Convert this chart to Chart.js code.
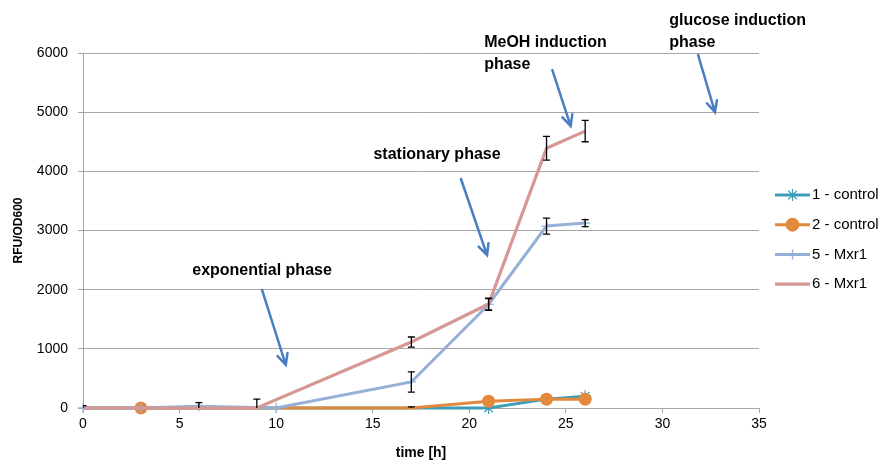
<!DOCTYPE html>
<html>
<head>
<meta charset="utf-8">
<script src="https://cdn.jsdelivr.net/npm/chart.js@4.4.1/dist/chart.umd.min.js"></script>
<style>
    html, body { margin: 0; padding: 0; background: #fff; }
    #wrap { width: 884px; height: 464px; }
</style>
</head>
<body>
<div id="wrap"><canvas id="fluoChart" width="884" height="464"></canvas></div>
<script>
// Sampling times [h]
const timeH = [0, 3, 6, 9, 17, 21, 24, 26];
const timeMxr5 = [0, 3, 6, 10, 17, 21, 24, 26];

// RFU/OD600 per series
const control1 = [0, 0, 0, 0, 0, 0, 150, 200];
const control2 = [0, 0, 0, 0, 0, 115, 150, 150];
const mxr5 = [0, 0, 30, 0, 440, 1750, 3075, 3125];
const mxr6 = [0, 0, 0, 0, 1115, 1757, 4390, 4680];

// error bars (+/-)
const errControl1 = [0, 0, 0, 0, 20, 0, 0, 0];
const errControl2 = [0, 0, 0, 0, 0, 0, 0, 0];
const errMxr5 = [40, 0, 60, 0, 170, 100, 135, 60];
const errMxr6 = [0, 0, 0, 150, 85, 100, 200, 180];

// which points show a marker on the control series
const controlMarkers = [0, 1, 0, 0, 0, 1, 1, 1];

const seriesLabels = ['1 - control', '2 - control', '5 - Mxr1', '6 - Mxr1'];

const xTicks = [0, 5, 10, 15, 20, 25, 30, 35];
const yTicks = [0, 1000, 2000, 3000, 4000, 5000, 6000];

// phase annotations, anchored in data units (time, RFU/OD600)
const phaseNotes = [
    { lines: ['exponential phase'], x: 9.27, y: 2315, align: 'center', from: [9.27, 1995], to: [10.5, 730] },
    { lines: ['stationary phase'], x: 18.33, y: 4275, align: 'center', from: [19.57, 3870], to: [20.92, 2585] },
    { lines: ['MeOH induction', 'phase'], x: 20.77, y: 6180, align: 'left', from: [24.3, 5710], to: [25.25, 4765] },
    { lines: ['glucose induction', 'phase'], x: 30.35, y: 6555, align: 'left', from: [31.85, 5965], to: [32.72, 5000] }
];

const COLORS = {
    control1: '#3E9DB5',
    control2: '#E3893D',
    mxr5: '#95AFD6',
    mxr6: '#D69795',
    grid: '#A6A6A6',
    arrow: '#4A7EC0',
    text: '#000000'
};

const FONT = '"Liberation Sans", Arial, sans-serif';

function points(xs, ys) {
    return xs.map((x, i) => ({ x: x, y: ys[i] }));
}

const datasets = [
    {
        label: seriesLabels[0],
        data: points(timeH, control1),
        errors: errControl1,
        borderColor: COLORS.control1,
        backgroundColor: COLORS.control1,
        borderWidth: 3,
        pointStyle: 'star',
        pointRadius: controlMarkers.map(m => m ? 6 : 0),
        pointBorderWidth: 1.2,
        order: 4
    },
    {
        label: seriesLabels[1],
        data: points(timeH, control2),
        errors: errControl2,
        borderColor: COLORS.control2,
        backgroundColor: COLORS.control2,
        borderWidth: 3,
        pointStyle: 'circle',
        pointRadius: controlMarkers.map(m => m ? 6.5 : 0),
        pointBorderWidth: 0,
        order: 3
    },
    {
        label: seriesLabels[2],
        data: points(timeMxr5, mxr5),
        errors: errMxr5,
        borderColor: COLORS.mxr5,
        backgroundColor: COLORS.mxr5,
        borderWidth: 3,
        pointStyle: 'cross',
        pointRadius: 5,
        pointBorderWidth: 1.3,
        order: 2
    },
    {
        label: seriesLabels[3],
        data: points(timeH, mxr6),
        errors: errMxr6,
        borderColor: COLORS.mxr6,
        backgroundColor: COLORS.mxr6,
        borderWidth: 3.2,
        pointRadius: 0,
        order: 1
    }
];

datasets.forEach(ds => {
    ds.tension = 0;
    ds.clip = false;
    ds.pointHoverRadius = 0;
});

/**
 * Black error bars with caps
 */
const errorBarPlugin = {
    id: 'errorBars',
    afterDatasetsDraw(chart) {
        const { ctx, chartArea, scales } = chart;
        ctx.save();
        ctx.beginPath();
        ctx.rect(chartArea.left, chartArea.top - 20, chartArea.right - chartArea.left, chartArea.bottom - chartArea.top + 20);
        ctx.clip();
        ctx.strokeStyle = '#000';
        ctx.lineWidth = 1.3;
        chart.data.datasets.forEach(ds => {
            ds.data.forEach((p, i) => {
                const e = ds.errors[i];
                if (!e) return;
                const x = scales.x.getPixelForValue(p.x);
                const y1 = scales.y.getPixelForValue(p.y + e);
                const y2 = scales.y.getPixelForValue(p.y - e);
                ctx.beginPath();
                ctx.moveTo(x, y1); ctx.lineTo(x, y2);
                ctx.moveTo(x - 3.5, y1); ctx.lineTo(x + 3.5, y1);
                ctx.moveTo(x - 3.5, y2); ctx.lineTo(x + 3.5, y2);
                ctx.stroke();
            });
        });
        ctx.restore();
    }
};

/**
 * Phase labels and arrows
 */
const phasePlugin = {
    id: 'phases',
    afterDraw(chart) {
        const { ctx, scales } = chart;
        const px = v => scales.x.getPixelForValue(v);
        const py = v => scales.y.getPixelForValue(v);
        ctx.save();
        ctx.fillStyle = COLORS.text;
        ctx.font = 'bold 16px ' + FONT;
        ctx.textBaseline = 'middle';
        phaseNotes.forEach(n => {
            ctx.textAlign = n.align;
            n.lines.forEach((line, k) => {
                ctx.fillText(line, px(n.x), py(n.y) + k * 22);
            });

            const x1 = px(n.from[0]), y1 = py(n.from[1]);
            const x2 = px(n.to[0]), y2 = py(n.to[1]);
            const ang = Math.atan2(y2 - y1, x2 - x1);
            const head = 12;
            ctx.strokeStyle = COLORS.arrow;
            ctx.lineWidth = 2.5;
            ctx.lineCap = 'round';
            ctx.beginPath();
            ctx.moveTo(x1, y1);
            ctx.lineTo(x2, y2);
            ctx.moveTo(x2 - head * Math.cos(ang - 0.45), y2 - head * Math.sin(ang - 0.45));
            ctx.lineTo(x2, y2);
            ctx.lineTo(x2 - head * Math.cos(ang + 0.45), y2 - head * Math.sin(ang + 0.45));
            ctx.stroke();
        });
        ctx.restore();
    }
};

/**
 * Legend on the right
 */
const legendPlugin = {
    id: 'sideLegend',
    afterDraw(chart) {
        const { ctx } = chart;
        const left = 775, lineLen = 35, top = 195, gap = 29.7;
        ctx.save();
        ctx.font = '15px ' + FONT;
        ctx.textBaseline = 'middle';
        ctx.textAlign = 'left';
        chart.data.datasets.forEach((ds, i) => {
            const y = top + i * gap;
            ctx.strokeStyle = ds.borderColor;
            ctx.fillStyle = ds.backgroundColor;
            ctx.lineWidth = ds.borderWidth;
            ctx.beginPath();
            ctx.moveTo(left, y);
            ctx.lineTo(left + lineLen, y);
            ctx.stroke();
            const r = Array.isArray(ds.pointRadius) ? Math.max(...ds.pointRadius) : ds.pointRadius;
            if (r) {
                ctx.lineWidth = ds.pointBorderWidth || 1;
                Chart.helpers.drawPoint(ctx, {
                    pointStyle: ds.pointStyle,
                    radius: r,
                    borderWidth: ds.pointBorderWidth || 1,
                    rotation: 0
                }, left + lineLen / 2, y);
            }
            ctx.fillStyle = '#000';
            ctx.fillText(ds.label, left + lineLen + 2, y);
        });
        ctx.restore();
    }
};

const chart = new Chart(document.getElementById('fluoChart'), {
    type: 'line',
    data: { datasets: datasets },
    plugins: [errorBarPlugin, phasePlugin, legendPlugin],
    options: {
        responsive: false,
        animation: false,
        events: [],
        layout: { padding: { top: 53, right: 125, left: 0, bottom: 0 } },
        plugins: {
            legend: { display: false },
            tooltip: { enabled: false }
        },
        scales: {
            x: {
                type: 'linear',
                min: 0,
                max: 35,
                afterBuildTicks: s => { s.ticks = xTicks.map(v => ({ value: v })); },
                afterFit: s => { s.height = 56; },
                grid: { drawOnChartArea: false, drawTicks: true, tickLength: 5, color: COLORS.grid },
                border: { color: COLORS.grid, width: 1 },
                ticks: { color: '#000', font: { family: FONT, size: 14 }, padding: 3, maxRotation: 0, callback: v => String(v) },
                title: { display: true, text: 'time [h]', color: '#000', font: { family: FONT, size: 14, weight: 'bold' }, padding: { top: 0, bottom: 2 } }
            },
            y: {
                min: 0,
                max: 6000,
                afterBuildTicks: s => { s.ticks = yTicks.map(v => ({ value: v })); },
                afterFit: s => { s.width = 83; },
                grid: { drawTicks: true, tickLength: 5, color: COLORS.grid },
                border: { color: COLORS.grid, width: 1 },
                ticks: { color: '#000', font: { family: FONT, size: 14 }, padding: 10, callback: v => String(v) },
                title: { display: true, text: 'RFU/OD600', color: '#000', font: { family: FONT, size: 12, weight: 'bold' }, padding: { top: 11, bottom: 0 } }
            }
        }
    }
});
</script>
</body>
</html>
